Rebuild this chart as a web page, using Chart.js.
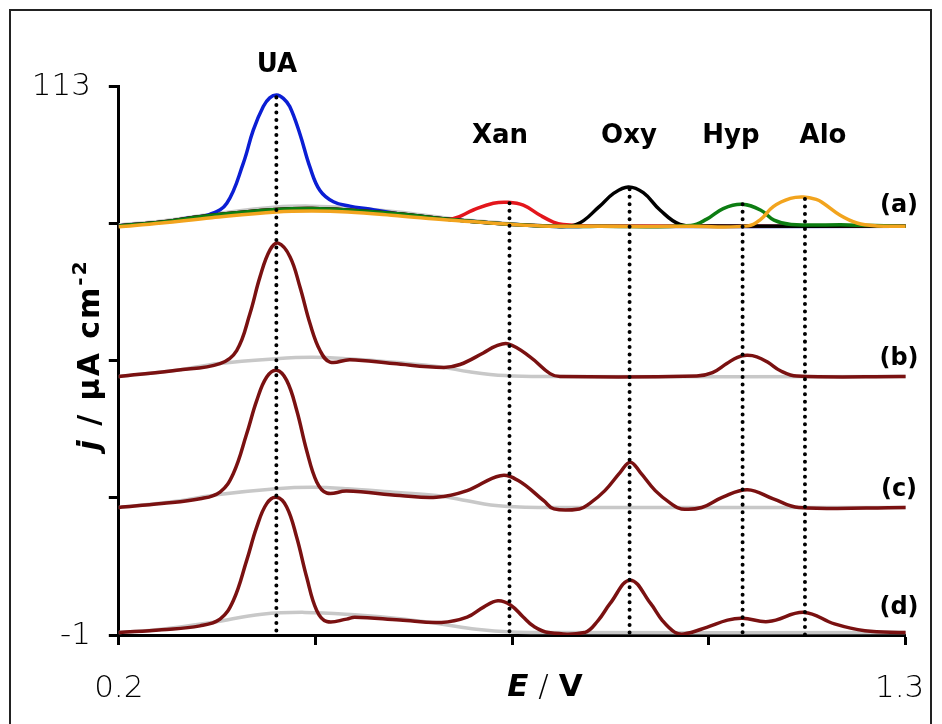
<!DOCTYPE html>
<html><head><meta charset="utf-8">
<script src="https://cdn.jsdelivr.net/npm/chart.js@4.4.1/dist/chart.umd.min.js"></script>
<style>html,body{margin:0;padding:0;background:#fff}#wrap{width:942px;height:724px;position:relative}</style>
</head><body><div id="wrap"><canvas id="c" width="942" height="724"></canvas></div>
<script>
// ---------- data ----------
const xTickValues = [0.2, 0.475, 0.75, 1.025, 1.3];
const xTickLabels = ['0.2', '', '', '', '1.3'];
const yTickValues = [113, 84.5, 56, 27.5, -1];
const yTickLabels = ['113', '', '', '', '-1'];

const peakNames = ['UA', 'Xan', 'Oxy', 'Hyp', 'Alo'];
const peakE     = [0.4203, 0.7462, 0.9141, 1.0721, 1.1593];
const peakTop   = [110.7, 88.7, 91.6, 88.5, 89.6];
const traceNames = ['(a)', '(b)', '(c)', '(d)'];

// (a) single-analyte voltammograms
const aGrayE  = [0.20, 0.26, 0.33, 0.42, 0.47, 0.52, 0.59, 0.66, 0.72, 0.79, 0.87, 1.30];
const aGrayJ  = [84.2, 85.0, 86.4, 87.9, 88.1, 87.8, 86.9, 85.6, 84.8, 84.0, 83.9, 83.9];
const aBlueE  = [0.20, 0.26, 0.30, 0.3275, 0.351, 0.374, 0.388, 0.402, 0.411, 0.4207, 0.430, 0.439, 0.453, 0.467, 0.481, 0.500, 0.523, 0.55, 0.59, 0.66, 0.72, 0.79, 0.87, 1.30];
const aBlueJ  = [84.0, 84.8, 85.7, 86.4, 88.7, 97.0, 103.9, 108.8, 110.6, 111.2, 110.5, 108.8, 103.2, 96.3, 91.4, 89.0, 88.1, 87.5, 86.5, 85.4, 84.6, 84.0, 83.9, 83.9];
const aRedE   = [0.20, 0.26, 0.33, 0.42, 0.47, 0.52, 0.59, 0.64, 0.667, 0.6956, 0.7236, 0.7445, 0.7655, 0.789, 0.8075, 0.821, 0.86, 1.30];
const aRedJ   = [84.0, 84.8, 86.2, 87.4, 87.6, 87.3, 86.5, 85.7, 85.5, 87.3, 88.7, 88.9, 88.3, 86.2, 84.8, 84.3, 84.0, 83.9];
const aBlackE = [0.20, 0.26, 0.33, 0.42, 0.47, 0.52, 0.59, 0.66, 0.72, 0.80, 0.840, 0.8717, 0.8913, 0.9123, 0.9333, 0.9566, 0.9845, 1.02, 1.30];
const aBlackJ = [84.0, 84.8, 86.2, 87.4, 87.6, 87.3, 86.5, 85.4, 84.6, 84.0, 84.3, 88.0, 90.7, 92.1, 90.9, 87.3, 84.3, 84.0, 83.95];
const aGreenE = [0.20, 0.26, 0.33, 0.42, 0.47, 0.52, 0.59, 0.66, 0.72, 0.79, 0.87, 1.00, 1.022, 1.045, 1.071, 1.097, 1.116, 1.14, 1.22, 1.30];
const aGreenJ = [84.0, 84.8, 86.2, 87.4, 87.6, 87.3, 86.5, 85.4, 84.6, 84.0, 83.9, 84.1, 85.4, 87.6, 88.5, 87.3, 85.2, 84.3, 84.2, 83.9];
const aOrangeE = [0.20, 0.26, 0.33, 0.42, 0.47, 0.52, 0.59, 0.66, 0.72, 0.79, 0.87, 1.00, 1.08, 1.097, 1.115, 1.139, 1.157, 1.175, 1.185, 1.2085, 1.232, 1.26, 1.30];
const aOrangeJ = [83.8, 84.6, 85.7, 86.9, 87.1, 86.9, 86.1, 85.2, 84.6, 84.0, 83.9, 83.9, 84.0, 85.3, 88.0, 89.7, 90.0, 89.5, 88.7, 86.2, 84.6, 84.0, 83.9];

// (b)
const bE = [0.20, 0.281, 0.3415, 0.3648, 0.3834, 0.3974, 0.4114, 0.423, 0.4393, 0.4533, 0.4673, 0.4813, 0.4953, 0.5232, 0.5837, 0.6537, 0.677, 0.7096, 0.727, 0.7445, 0.7749, 0.8029, 0.8168, 1.008, 1.03, 1.05, 1.065, 1.078, 1.092, 1.108, 1.125, 1.148, 1.30];
const bJ = [52.7, 54.0, 55.4, 58.1, 65.8, 73.4, 79.0, 80.4, 77.6, 71.3, 63.7, 58.1, 55.7, 56.2, 55.4, 54.6, 55.2, 57.6, 59.0, 59.5, 56.8, 53.3, 52.7, 52.8, 53.5, 55.4, 56.7, 57.1, 56.8, 55.6, 53.9, 52.8, 52.7];
const bGrayE = [0.20, 0.28, 0.34, 0.42, 0.47, 0.52, 0.59, 0.65, 0.69, 0.74, 0.80, 1.30];
const bGrayJ = [52.7, 54.0, 55.4, 56.4, 56.7, 56.4, 55.6, 54.7, 53.7, 52.9, 52.7, 52.7];

// (c)
const cE = [0.20, 0.26, 0.3135, 0.3415, 0.36, 0.3788, 0.3928, 0.4068, 0.4207, 0.4347, 0.4487, 0.4627, 0.4767, 0.4907, 0.5186, 0.593, 0.644, 0.687, 0.7334, 0.7584, 0.794, 0.8083, 0.844, 0.858, 0.8796, 0.901, 0.915, 0.929, 0.950, 0.972, 0.9865, 1.015, 1.0436, 1.079, 1.115, 1.1507, 1.30];
const cJ = [25.5, 26.3, 27.3, 28.7, 32.5, 40.8, 47.7, 52.6, 54.0, 51.9, 45.7, 37.3, 30.8, 28.5, 28.9, 28.0, 27.6, 29.0, 32.1, 31.1, 26.9, 25.2, 25.2, 26.3, 29.0, 32.8, 34.9, 32.8, 29.0, 26.3, 25.2, 25.5, 27.6, 29.2, 27.3, 25.5, 25.5];
const cGrayE = [0.20, 0.28, 0.34, 0.42, 0.47, 0.52, 0.59, 0.644, 0.687, 0.72, 0.76, 0.80, 1.30];
const cGrayJ = [25.5, 26.8, 28.2, 29.4, 29.7, 29.4, 28.6, 28.0, 26.9, 26.0, 25.6, 25.5, 25.5];

// (d)
const dE = [0.20, 0.26, 0.3135, 0.3415, 0.36, 0.3788, 0.3928, 0.4068, 0.4207, 0.4347, 0.4487, 0.4627, 0.4767, 0.4907, 0.5186, 0.53, 0.593, 0.651, 0.687, 0.71, 0.73, 0.748, 0.765, 0.78, 0.801, 0.851, 0.87, 0.8867, 0.915, 0.9437, 0.96, 0.977, 0.99, 1.022, 1.051, 1.072, 1.108, 1.158, 1.2006, 1.243, 1.30];
const dJ = [-0.5, 0.1, 0.9, 2.3, 6.1, 14.5, 21.4, 26.3, 27.6, 25.6, 19.3, 11.0, 4.1, 1.8, 2.3, 2.7, 2.1, 1.6, 2.7, 4.8, 6.1, 5.2, 2.8, 0.8, -0.5, -0.5, 2.0, 5.5, 10.4, 5.5, 2.0, -0.4, -0.8, 0.6, 2.1, 2.5, 1.8, 3.7, 1.3, -0.1, -0.5];
const dGrayE = [0.20, 0.26, 0.33, 0.40, 0.46, 0.53, 0.60, 0.65, 0.70, 0.75, 0.80, 1.30];
const dGrayJ = [-0.5, 0.2, 1.6, 3.3, 3.7, 3.2, 2.3, 1.3, 0.2, -0.4, -0.5, -0.5];

// ---------- styling ----------
const BROWN = '#7a1111', GRAY = '#c8c8c8';
function curve(E, J, color, w) {
  return { data: E.map((e, i) => ({ x: e, y: J[i] })), borderColor: color, borderWidth: w,
           pointRadius: 0, tension: 0.4, borderJoinStyle: 'round', borderCapStyle: 'round', fill: false };
}
function dotted(i) {
  return { data: [{ x: peakE[i], y: peakTop[i] }, { x: peakE[i], y: -1 }], borderColor: '#000',
           borderWidth: 4, borderDash: [0.01, 7.5], borderCapStyle: 'round', pointRadius: 0, tension: 0, fill: false };
}

const LW = 3.5;
const datasets = [];
for (let i = 0; i < peakE.length; i++) datasets.push(dotted(i));
datasets.push(curve(aOrangeE, aOrangeJ, '#f2a41e', LW));
datasets.push(curve(aGreenE, aGreenJ, '#0d7d12', LW));
datasets.push(curve(aBlackE, aBlackJ, '#000000', LW));
datasets.push(curve(aRedE, aRedJ, '#e3161c', LW));
datasets.push(curve(aBlueE, aBlueJ, '#0b1ed4', LW));
datasets.push(curve(aGrayE, aGrayJ, GRAY, LW));
datasets.push(curve(bE, bJ, BROWN, LW));
datasets.push(curve(cE, cJ, BROWN, LW));
datasets.push(curve(dE, dJ, BROWN, LW));
datasets.push(curve(bGrayE, bGrayJ, GRAY, LW));
datasets.push(curve(cGrayE, cGrayJ, GRAY, LW));
datasets.push(curve(dGrayE, dGrayJ, GRAY, LW));

const FONT = '"DejaVu Sans", "Liberation Sans", Arial, sans-serif';

const textPlugin = {
  id: 'texts',
  afterDraw(chart) {
    const ctx = chart.ctx, xs = chart.scales.x, ys = chart.scales.y;
    ctx.save();
    // frame
    ctx.strokeStyle = '#222'; ctx.lineWidth = 2;
    ctx.beginPath(); ctx.moveTo(10, 730); ctx.lineTo(10, 10); ctx.lineTo(931, 10); ctx.lineTo(931, 730); ctx.stroke();

    ctx.fillStyle = '#000';
    // tick labels
    ctx.font = '200 31px ' + FONT;
    ctx.textAlign = 'center'; ctx.textBaseline = 'alphabetic';
    xTickValues.forEach((v, i) => { if (xTickLabels[i]) ctx.fillText(xTickLabels[i], xs.getPixelForValue(v) - (i === xTickValues.length - 1 ? 6 : 0), 697); });
    ctx.textAlign = 'right'; ctx.textBaseline = 'middle';
    yTickValues.forEach((v, i) => { if (yTickLabels[i]) ctx.fillText(yTickLabels[i], 91, ys.getPixelForValue(v) + 1); });

    // peak names
    ctx.font = 'bold 26px ' + FONT; ctx.textAlign = 'center'; ctx.textBaseline = 'alphabetic';
    const nameX = [277, 500, 629, 731, 823], nameY = [72, 143, 143, 143, 143];
    peakNames.forEach((n, i) => ctx.fillText(n, nameX[i], nameY[i]));

    // trace letters
    ctx.font = 'bold 24px ' + FONT; ctx.textBaseline = 'middle';
    const trY = [206, 359, 490, 608];
    traceNames.forEach((n, i) => ctx.fillText(n, 899, trY[i]));

    // x title  E / V
    const xparts = [ { t: 'E', f: 'italic bold 31px ' + FONT }, { t: ' / ', f: '200 31px ' + FONT }, { t: 'V', f: 'bold 31px ' + FONT } ];
    let tw = 0; xparts.forEach(p => { ctx.font = p.f; p.w = ctx.measureText(p.t).width; tw += p.w; });
    let x0 = 545 - tw / 2; ctx.textAlign = 'left'; ctx.textBaseline = 'alphabetic';
    xparts.forEach(p => { ctx.font = p.f; ctx.fillText(p.t, x0, 696); x0 += p.w; });

    // y title  j / μA cm^-2
    ctx.translate(99, 355); ctx.rotate(-Math.PI / 2);
    const yparts = [ { t: 'j', f: 'italic bold 30px ' + FONT, dy: 0 }, { t: ' / ', f: 'bold 30px ' + FONT, dy: 0 },
                     { t: 'μA cm', f: 'bold 30px ' + FONT, dy: 0 }, { t: '-2', f: 'bold 20px ' + FONT, dy: -13 } ];
    ctx.letterSpacing = '2px';
    tw = 0; yparts.forEach(p => { ctx.font = p.f; p.w = ctx.measureText(p.t).width; tw += p.w; });
    x0 = -tw / 2;
    yparts.forEach(p => { ctx.font = p.f; ctx.fillText(p.t, x0, p.dy); x0 += p.w; });
    ctx.restore();
  }
};

new Chart(document.getElementById('c'), {
  type: 'line',
  data: { datasets },
  options: {
    responsive: false, animation: false, devicePixelRatio: 1,
    layout: { padding: { left: 0, top: 86.3, right: 36.4, bottom: 0 } },
    plugins: { legend: { display: false }, tooltip: { enabled: false } },
    scales: {
      x: { type: 'linear', min: 0.2, max: 1.3,
           afterBuildTicks: s => { s.ticks = xTickValues.map(v => ({ value: v })); },
           afterFit: s => { s.height = 89; },
           ticks: { display: false },
           grid: { drawOnChartArea: false, drawTicks: true, tickLength: 10, tickWidth: 3, tickColor: '#000' },
           border: { display: true, color: '#000', width: 3 } },
      y: { type: 'linear', min: -1, max: 113,
           afterBuildTicks: s => { s.ticks = yTickValues.map(v => ({ value: v })); },
           afterFit: s => { s.width = 118.8; },
           ticks: { display: false },
           grid: { drawOnChartArea: false, drawTicks: true, tickLength: 10, tickWidth: 3, tickColor: '#000' },
           border: { display: true, color: '#000', width: 3 } }
    }
  },
  plugins: [textPlugin]
});
</script></body></html>
